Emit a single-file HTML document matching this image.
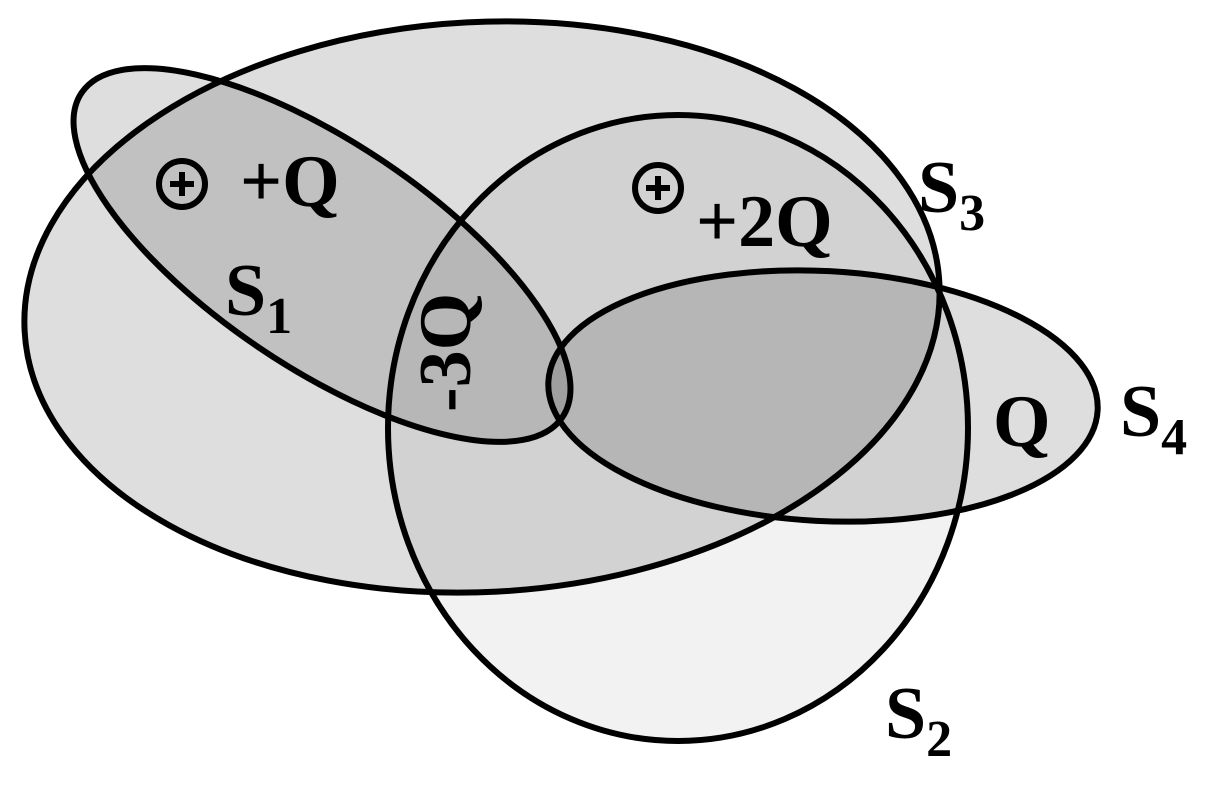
<!DOCTYPE html>
<html><head><style>html,body{margin:0;padding:0;background:#fff}svg{display:block}</style></head>
<body>
<svg width="1217" height="794" viewBox="0 0 1217 794" xmlns="http://www.w3.org/2000/svg">
<g fill="#000" fill-opacity="0.13">
<ellipse cx="482" cy="307" rx="458" ry="285" transform="rotate(-3 482 307)"/>
<ellipse cx="322" cy="255" rx="290" ry="112" transform="rotate(34 322 255)"/>
<ellipse cx="678" cy="428" rx="290" ry="313" fill-opacity="0.05"/>
<ellipse cx="823" cy="396" rx="275" ry="125" transform="rotate(3 823 396)"/>
</g>
<g fill="none" stroke="#000" stroke-width="6">
<ellipse cx="482" cy="307" rx="458" ry="285" transform="rotate(-3 482 307)"/>
<ellipse cx="322" cy="255" rx="290" ry="112" transform="rotate(34 322 255)"/>
<ellipse cx="678" cy="428" rx="290" ry="313"/>
<ellipse cx="823" cy="396" rx="275" ry="125" transform="rotate(3 823 396)"/>
<circle cx="182" cy="184" r="23" stroke-width="6"/>
<circle cx="658" cy="188" r="23" stroke-width="6"/>
</g>
<g stroke="#000" stroke-width="6">
<line x1="170" y1="184" x2="194" y2="184"/><line x1="182" y1="172" x2="182" y2="196"/>
<line x1="646" y1="188" x2="670" y2="188"/><line x1="658" y1="176" x2="658" y2="200"/>
</g>
<g font-family="Liberation Serif, serif" font-weight="bold" font-size="74" fill="#000">
<text x="240" y="206">+Q</text>
<text x="696" y="246">+2Q</text>
<text x="225" y="315">S<tspan font-size="52" dy="18">1</tspan></text>
<text x="918" y="212">S<tspan font-size="52" dy="18">3</tspan></text>
<text x="993" y="446">Q</text>
<text x="1120" y="436">S<tspan font-size="52" dy="18">4</tspan></text>
<text x="885" y="738">S<tspan font-size="52" dy="18">2</tspan></text>
<text transform="translate(470,412) rotate(-90)">-3Q</text>
</g>
</svg>
</body></html>
